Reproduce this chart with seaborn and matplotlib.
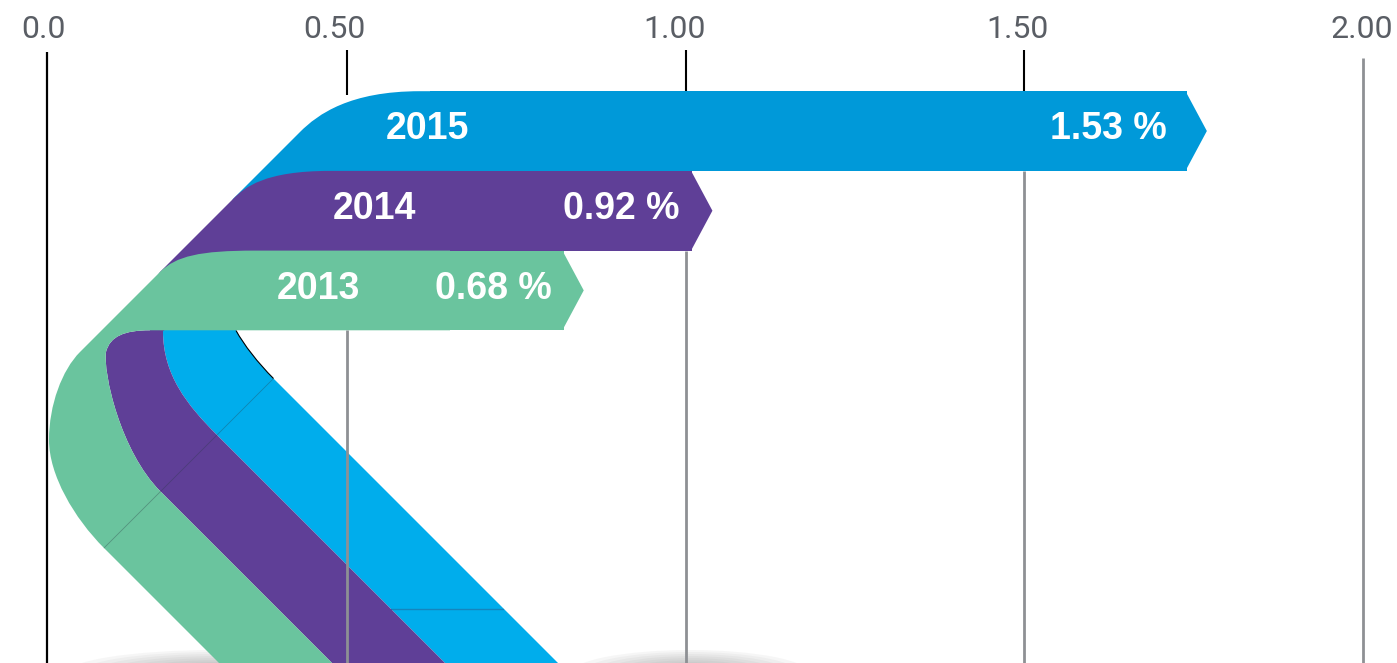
import numpy as np
import matplotlib
matplotlib.use("Agg")
import matplotlib.pyplot as plt
import seaborn as sns
from matplotlib.path import Path
from matplotlib.patches import PathPatch, Polygon, Ellipse
from matplotlib import transforms

# ---------------- data ----------------
years = ["2015", "2014", "2013"]
rates = [1.53, 0.92, 0.68]            # printed values (%)
bar_end = [1.74, 1.01, 0.82]          # where each bar's flat end sits on the axis
tick_values = [0.0, 0.5, 1.0, 1.5, 2.0]
tick_labels = ["0.0", "0.50", "1.00", "1.50", "2.00"]

# ---------------- style ----------------
W, H = 1397, 663
BLUE_BAR = "#0099D9"
BLUE_RIB = "#00ADEC"
PURPLE = "#5F3F97"
GREEN = "#6AC49E"
bar_colors = [BLUE_BAR, PURPLE, GREEN]
GRID_GREY = "#8E9094"
LABEL_GREY = "#5A5E65"
tick_label_shift_px = [-4, -13, -11, -7, -1]
value_label_shift_px = [-20, -13, -12]

sns.set_theme(style="white")
plt.rcParams["font.family"] = ["Liberation Sans", "DejaVu Sans"]

fig = plt.figure(figsize=(W / 100, H / 100), dpi=100)
fig.patch.set_facecolor("white")
ax = fig.add_axes([0, 0, 1, (H - 50) / H])
ax.set_facecolor("white")

# pixel transform (origin top-left) for the decorative ribbon geometry
pxT = transforms.Affine2D().scale(1 / W, -1 / H).translate(0, 1) + fig.transFigure

# ---------------- bars (seaborn) ----------------
sns.barplot(x=bar_end, y=years, hue=years, palette=bar_colors, orient="h",
            width=1.0, saturation=1, legend=False, errorbar=None,
            linewidth=0, ax=ax)

# piecewise-linear axis: the 0 -> 0.50 interval is drawn slightly shorter
K = 300 / 338.65


def fwd(v):
    v = np.asarray(v, dtype=float)
    return np.where(v < 0.5, 0.5 - (0.5 - v) * K, v)


def inv(t):
    t = np.asarray(t, dtype=float)
    return np.where(t < 0.5, 0.5 - (0.5 - t) / K, t)


ax.set_xscale("function", functions=(fwd, inv))
px_per_unit = 677.3
t_left = 0.5 - 347 / px_per_unit
t_right = 0.5 + (W - 347) / px_per_unit
ax.set_xlim(float(inv(t_left)), t_right)
y_top = -81 / 79.7
y_bot = (H - 131) / 79.7
ax.set_ylim(y_bot, y_top)

bar_start = 0.5 + (430 - 347) / px_per_unit
tip = 20 / px_per_unit
z_rib = [2, 3, 4]
for p in list(ax.patches):
    i = int(round(p.get_y() + p.get_height() / 2))
    end = bar_end[i]
    p.set_x(bar_start)
    p.set_width(end - bar_start)
    p.set_zorder(z_rib[i] + 0.1)
    p.set_edgecolor("none")
    yc = i
    tri = Polygon([(end - 0.002, yc - 0.5), (end + tip, yc), (end - 0.002, yc + 0.5)],
                  closed=True, facecolor=bar_colors[i], edgecolor="none",
                  zorder=z_rib[i] + 0.1)
    ax.add_patch(tri)


# ---------------- ribbons (decorative, pixel geometry) ----------------
def make_path(cmds):
    verts, codes = [], []
    for c in cmds:
        if c[0] == "M":
            verts.append(c[1]); codes.append(Path.MOVETO)
        elif c[0] == "L":
            verts.append(c[1]); codes.append(Path.LINETO)
        elif c[0] == "C":
            verts += [c[1], c[2], c[3]]; codes += [Path.CURVE4] * 3
    verts.append(verts[0]); codes.append(Path.CLOSEPOLY)
    return Path(verts, codes)


def add_ribbon(cmds, color, z):
    ax.add_patch(PathPatch(make_path(cmds), facecolor=color, edgecolor="none",
                           transform=pxT, zorder=z, clip_on=False))


T0, T1, T2, T3 = 91.2, 170.9, 250.6, 330.3   # bar edges in pixels

blue_lower = [("M", (502, 720)), ("L", (217, 435)),
              ("C", (187, 405), (163, 375), (163, 331)),
              ("L", (163, 322)), ("L", (237, 322)), ("L", (236, 330)),
              ("C", (244, 345), (258, 363), (273.5, 378.5)),
              ("L", (615, 720))]
blue_upper = [("M", (210, 300)), ("L", (200, 262)), ("L", (233, 199)),
              ("L", (300, 132)), ("C", (318, 114), (350, T0), (420, T0)),
              ("L", (450, T0)), ("L", (450, T1 + 1)), ("L", (300, 200)),
              ("L", (215, 250))]
purple_rib = [("M", (389, 720)), ("L", (160.5, 491.5)),
              ("C", (120.5, 451.5), (103, 373), (106, 352)),
              ("C", (110, 336), (125, T3), (150, T3)),
              ("L", (140, 300)), ("L", (160, 272)), ("L", (233, 199)),
              ("C", (245, 187), (265, T1), (330, T1)),
              ("L", (450, T1)), ("L", (450, T2 + 1)), ("L", (255, 262)),
              ("L", (200, 300)), ("L", (168, 328)), ("L", (163, 331)),
              ("C", (163, 375), (187, 405), (217, 435)),
              ("L", (502, 720))]
green_rib = [("M", (276, 720)), ("L", (104, 548)),
             ("C", (74, 518), (49, 475), (49, 440)),
             ("C", (49, 405), (62, 370), (80, 352)),
             ("L", (160, 272)),
             ("C", (176, 256), (200, T2), (255, T2)),
             ("L", (450, T2)), ("L", (450, T3)), ("L", (150, T3)),
             ("C", (125, T3), (110, 336), (106, 352)),
             ("C", (103, 373), (120.5, 451.5), (160.5, 491.5)),
             ("L", (389, 720))]

add_ribbon(blue_lower, BLUE_RIB, 2)
add_ribbon(blue_upper, BLUE_BAR, 2)
add_ribbon(purple_rib, PURPLE, 3)
add_ribbon(green_rib, GREEN, 4)

# faint fold seams
ax.plot([104, 273.5], [548, 378.5], transform=pxT, color="#2b3a44", lw=0.6,
        alpha=0.35, zorder=4.5, clip_on=False)
ax.plot([391, 503], [609, 609], transform=pxT, color="#1585bd", lw=1.0,
        zorder=2.5, clip_on=False)
edge = Path([(236, 330.5), (244, 345), (258, 363), (273.5, 378.5)],
            [Path.MOVETO, Path.CURVE4, Path.CURVE4, Path.CURVE4])
ax.add_patch(PathPatch(edge, facecolor="none", edgecolor="black", lw=0.8,
                       transform=pxT, zorder=2.5, clip_on=False))

# soft floor shadows
for cx, wd in [(215, 300), (690, 240)]:
    for k in range(10):
        f = 1 - k * 0.085
        ax.add_patch(Ellipse((cx, 674), wd * f, 48 * f, facecolor="#6e6e6e",
                             edgecolor="none", alpha=0.06, transform=pxT,
                             zorder=1, clip_on=False))

# ---------------- grid lines ----------------
for t in tick_values:
    if t == 0:
        ax.vlines(t, -0.99, y_bot, color="black", lw=1.6, zorder=5)
        continue
    covered = [i for i, e in enumerate(bar_end) if e >= t]
    if covered:
        ax.vlines(t, y_top, -0.45, color="black", lw=1.5, zorder=1.5)
        ax.vlines(t, max(covered) + 0.5, y_bot, color=GRID_GREY, lw=2.0, zorder=5)
    else:
        ax.vlines(t, -0.92, y_bot, color=GRID_GREY, lw=2.0, zorder=5)

# ---------------- text ----------------
year_px = [427, 375, 318]
yearT = transforms.blended_transform_factory(pxT, ax.transData)
for i, (yr, r) in enumerate(zip(years, rates)):
    ax.annotate(yr, xy=(year_px[i], i), xycoords=yearT, xytext=(0, -6),
                textcoords="offset points", ha="center", va="baseline",
                fontsize=27, fontweight="bold", color="white", zorder=10)
    ax.annotate(f"{r:.2f} %", xy=(bar_end[i], i),
                xytext=(value_label_shift_px[i] * 0.72, -6),
                textcoords="offset points", ha="right", va="baseline",
                fontsize=27, fontweight="bold", color="white", zorder=10)

ax.xaxis.set_ticks_position("top")
ax.set_xticks(tick_values)
ax.set_xticklabels(tick_labels, fontfamily=["Roboto", "DejaVu Sans"],
                   fontweight="normal", fontsize=23, color=LABEL_GREY)
ax.tick_params(axis="x", length=0, pad=4)
for lab, dx in zip(ax.get_xticklabels(), tick_label_shift_px):
    lab.set_transform(lab.get_transform() +
                      transforms.ScaledTranslation(dx / 100, 0, fig.dpi_scale_trans))
ax.set_yticks([])
ax.set_xlabel("")
ax.set_ylabel("")
for s in ax.spines.values():
    s.set_visible(False)
ax.grid(False)

fig.savefig("out.png", dpi=100, facecolor="white")
